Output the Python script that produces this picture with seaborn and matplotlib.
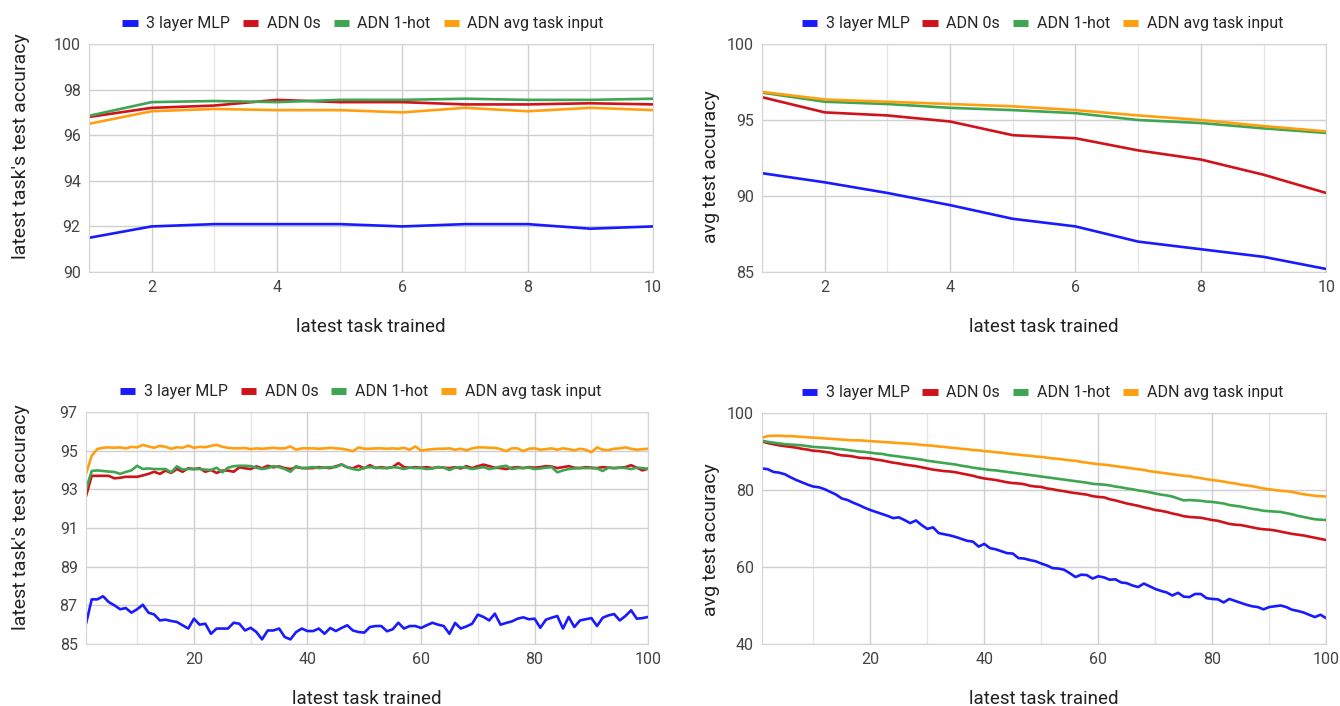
import numpy as np
import pandas as pd
import matplotlib
matplotlib.use("Agg")
import matplotlib.pyplot as plt
import seaborn as sns
from matplotlib.ticker import MultipleLocator

# series names and colours
series = ["3 layer MLP", "ADN 0s", "ADN 1-hot", "ADN avg task input"]
colors = ["#1a1aff", "#d0121b", "#3ea553", "#ff9f0f"]

# --- 10 tasks ---
tasks10 = list(range(1, 11))
latest10_mlp = [91.5, 92.0, 92.1, 92.1, 92.1, 92.0, 92.1, 92.1, 91.9, 92.0]
latest10_zeros = [96.8, 97.2, 97.3, 97.55, 97.45, 97.45, 97.35, 97.35, 97.4, 97.35]
latest10_onehot = [96.85, 97.45, 97.5, 97.45, 97.55, 97.55, 97.6, 97.55, 97.55, 97.6]
latest10_avg = [96.5, 97.05, 97.15, 97.1, 97.1, 97.0, 97.2, 97.05, 97.2, 97.1]

avg10_mlp = [91.5, 90.9, 90.2, 89.4, 88.5, 88.0, 87.0, 86.5, 86.0, 85.2]
avg10_zeros = [96.5, 95.5, 95.3, 94.9, 94.0, 93.8, 93.0, 92.4, 91.4, 90.2]
avg10_onehot = [96.8, 96.2, 96.05, 95.8, 95.65, 95.45, 95.0, 94.8, 94.45, 94.15]
avg10_avg = [96.85, 96.35, 96.2, 96.05, 95.9, 95.65, 95.3, 95.0, 94.6, 94.25]

# --- 100 tasks ---
tasks100 = list(range(1, 101))
latest100_mlp = [
    86.05, 87.31, 87.31, 87.47, 87.17, 87.0, 86.8, 86.86, 86.62, 86.8,
    87.03, 86.62, 86.53, 86.22, 86.26, 86.19, 86.14, 85.97, 85.8, 86.31,
    86.0, 86.05, 85.53, 85.8, 85.8, 85.8, 86.1, 86.05, 85.7, 85.84,
    85.62, 85.24, 85.7, 85.7, 85.8, 85.36, 85.24, 85.62, 85.8, 85.67,
    85.67, 85.8, 85.53, 85.83, 85.67, 85.83, 85.97, 85.7, 85.62, 85.59,
    85.88, 85.93, 85.93, 85.66, 85.76, 86.1, 85.8, 85.93, 85.93, 85.83,
    85.97, 86.1, 86.0, 85.93, 85.53, 86.09, 85.8, 85.91, 86.05, 86.52,
    86.4, 86.22, 86.57, 86.0, 86.09, 86.17, 86.31, 86.38, 86.28, 86.31,
    85.84, 86.26, 86.36, 86.45, 85.8, 86.4, 85.88, 86.22, 86.28, 86.34,
    85.93, 86.36, 86.48, 86.55, 86.22, 86.45, 86.74, 86.31, 86.34, 86.4]
latest100_zeros = [
    92.65, 93.7, 93.7, 93.7, 93.7, 93.57, 93.6, 93.65, 93.65, 93.65,
    93.72, 93.8, 93.91, 93.8, 93.97, 93.85, 94.05, 93.91, 94.09, 94.05,
    94.09, 93.91, 94.0, 93.85, 93.97, 93.97, 93.91, 94.14, 94.09, 94.05,
    94.19, 94.09, 94.22, 94.14, 94.19, 94.1, 94.05, 94.15, 94.1, 94.09,
    94.1, 94.15, 94.12, 94.1, 94.19, 94.29, 94.14, 94.09, 94.22, 94.09,
    94.25, 94.1, 94.15, 94.1, 94.15, 94.36, 94.15, 94.12, 94.15, 94.12,
    94.15, 94.1, 94.15, 94.12, 94.1, 94.15, 94.08, 94.2, 94.1, 94.2,
    94.28, 94.2, 94.12, 94.1, 94.05, 94.12, 94.15, 94.1, 94.15, 94.12,
    94.15, 94.2, 94.18, 94.1, 94.15, 94.2, 94.12, 94.1, 94.15, 94.12,
    94.1, 94.15, 94.12, 94.1, 94.12, 94.15, 94.25, 94.12, 93.98, 94.08]
latest100_onehot = [
    93.0, 93.95, 93.98, 93.95, 93.92, 93.9, 93.8, 93.9, 93.98, 94.22,
    94.05, 94.08, 94.05, 94.05, 94.05, 93.88, 94.19, 94.02, 94.05, 94.05,
    94.05, 94.02, 94.0, 94.12, 93.88, 94.12, 94.2, 94.22, 94.22, 94.2,
    94.12, 94.05, 94.1, 94.2, 94.15, 94.05, 93.91, 94.2, 94.1, 94.12,
    94.15, 94.1, 94.12, 94.15, 94.15, 94.28, 94.15, 94.05, 94.0, 94.12,
    94.15, 94.12, 94.1, 94.1, 94.15, 94.12, 94.05, 94.12, 94.1, 94.1,
    94.05, 94.08, 94.15, 94.12, 94.0, 94.12, 94.15, 94.12, 94.05, 94.1,
    94.15, 94.05, 94.1, 94.18, 94.22, 94.05, 94.1, 94.1, 94.12, 94.05,
    94.08, 94.12, 94.15, 93.88, 93.98, 94.05, 94.08, 94.1, 94.1, 94.1,
    94.08, 93.95, 94.12, 94.1, 94.12, 94.1, 94.05, 94.12, 94.1, 94.05]
latest100_avg = [
    93.8, 94.74, 95.09, 95.15, 95.17, 95.15, 95.17, 95.12, 95.2, 95.17,
    95.3, 95.22, 95.15, 95.25, 95.2, 95.1, 95.18, 95.15, 95.26, 95.15,
    95.2, 95.18, 95.25, 95.3, 95.2, 95.15, 95.12, 95.12, 95.14, 95.08,
    95.12, 95.1, 95.12, 95.15, 95.12, 95.12, 95.22, 95.05, 95.12, 95.12,
    95.12, 95.1, 95.12, 95.15, 95.12, 95.1, 95.05, 94.97, 95.17, 95.1,
    95.1, 95.12, 95.12, 95.1, 95.12, 95.1, 95.15, 95.05, 95.22, 95.0,
    95.05, 95.08, 95.1, 95.1, 95.12, 95.05, 95.1, 95.02, 95.12, 95.17,
    95.17, 95.15, 95.15, 95.08, 94.98, 95.12, 95.12, 94.98, 95.1, 95.12,
    95.05, 95.08, 95.12, 95.05, 95.12, 95.08, 95.02, 95.1, 95.05, 94.92,
    95.17, 95.05, 95.03, 95.1, 95.12, 95.17, 95.1, 95.05, 95.08, 95.1]

avg100_mlp = [
    85.6, 85.4, 84.7, 84.5, 84.1, 83.3, 82.6, 82.0, 81.4, 80.9,
    80.7, 80.2, 79.5, 78.8, 77.8, 77.4, 76.7, 76.1, 75.4, 74.8,
    74.3, 73.8, 73.3, 72.7, 72.9, 72.2, 71.4, 72.1, 70.9, 69.9,
    70.3, 68.8, 68.5, 68.2, 67.8, 67.3, 66.8, 66.6, 65.3, 66.0,
    64.9, 64.6, 64.1, 63.6, 63.5, 62.3, 62.2, 61.8, 61.5, 60.9,
    60.4, 59.7, 59.6, 59.3, 58.4, 57.4, 58.0, 57.9, 57.0, 57.6,
    57.3, 56.7, 56.8, 56.0, 55.8, 55.2, 54.8, 55.7, 55.0, 54.3,
    53.8, 53.4, 52.6, 53.3, 52.3, 52.2, 53.0, 53.0, 51.9, 51.7,
    51.6, 50.8, 51.7, 51.2, 50.7, 50.2, 49.8, 49.6, 49.0, 49.6,
    49.8, 50.0, 49.6, 48.9, 48.6, 48.2, 47.6, 47.0, 47.6, 46.7]
avg100_zeros = [
    92.6, 92.2, 91.9, 91.6, 91.4, 91.2, 91.0, 90.7, 90.5, 90.2,
    90.1, 89.9, 89.7, 89.3, 89.0, 88.9, 88.7, 88.4, 88.3, 88.2,
    87.9, 87.7, 87.4, 87.1, 86.9, 86.6, 86.4, 86.2, 85.9, 85.6,
    85.3, 85.1, 84.9, 84.8, 84.6, 84.3, 84.0, 83.7, 83.3, 83.0,
    82.8, 82.6, 82.3, 82.0, 81.8, 81.7, 81.5, 81.1, 80.9, 80.8,
    80.4, 80.2, 79.9, 79.7, 79.4, 79.2, 79.0, 78.8, 78.4, 78.2,
    78.1, 77.6, 77.3, 76.9, 76.5, 76.2, 75.9, 75.5, 75.2, 74.8,
    74.6, 74.3, 73.9, 73.6, 73.2, 73.0, 72.9, 72.8, 72.5, 72.2,
    72.0, 71.6, 71.2, 71.0, 70.9, 70.6, 70.3, 70.0, 69.8, 69.7,
    69.5, 69.2, 68.9, 68.6, 68.4, 68.2, 67.9, 67.6, 67.3, 67.0]
avg100_onehot = [
    92.8, 92.5, 92.3, 92.1, 91.9, 91.8, 91.7, 91.6, 91.4, 91.2,
    91.1, 91.0, 90.9, 90.7, 90.6, 90.4, 90.2, 90.0, 89.9, 89.7,
    89.5, 89.4, 89.1, 88.9, 88.7, 88.5, 88.3, 88.1, 87.9, 87.6,
    87.4, 87.2, 87.0, 86.8, 86.6, 86.3, 86.1, 85.8, 85.6, 85.4,
    85.2, 85.1, 84.9, 84.7, 84.5, 84.3, 84.1, 83.9, 83.7, 83.5,
    83.3, 83.1, 82.9, 82.7, 82.5, 82.3, 82.1, 81.9, 81.6, 81.5,
    81.4, 81.2, 80.9, 80.7, 80.4, 80.2, 79.9, 79.7, 79.4, 79.1,
    78.8, 78.6, 78.3, 77.8, 77.3, 77.4, 77.3, 77.2, 77.0, 76.9,
    76.7, 76.5, 76.1, 75.9, 75.7, 75.4, 75.1, 74.9, 74.6, 74.5,
    74.4, 74.3, 74.0, 73.7, 73.3, 73.0, 72.7, 72.4, 72.3, 72.2]
avg100_avg = [
    93.6, 94.0, 94.1, 94.1, 94.0, 94.0, 93.9, 93.8, 93.7, 93.6,
    93.5, 93.4, 93.3, 93.2, 93.1, 93.0, 92.9, 92.9, 92.8, 92.7,
    92.6, 92.5, 92.4, 92.3, 92.2, 92.1, 92.0, 91.9, 91.7, 91.6,
    91.5, 91.3, 91.2, 91.0, 90.9, 90.7, 90.6, 90.4, 90.3, 90.1,
    90.0, 89.8, 89.7, 89.5, 89.3, 89.2, 89.0, 88.9, 88.7, 88.6,
    88.4, 88.2, 88.1, 87.9, 87.7, 87.6, 87.3, 87.1, 86.9, 86.7,
    86.6, 86.4, 86.2, 86.0, 85.8, 85.6, 85.4, 85.2, 84.9, 84.7,
    84.5, 84.3, 84.1, 83.9, 83.7, 83.6, 83.3, 83.1, 82.8, 82.6,
    82.4, 82.2, 81.9, 81.7, 81.4, 81.2, 81.0, 80.7, 80.4, 80.2,
    80.0, 79.8, 79.7, 79.5, 79.2, 78.9, 78.7, 78.5, 78.4, 78.3]

# y tick values per panel
yticks_tl = [90, 92, 94, 96, 98, 100]
yticks_tr = [85, 90, 95, 100]
yticks_bl = [85, 87, 89, 91, 93, 95, 97]
yticks_br = [40, 60, 80, 100]


def long_df(x, cols):
    frames = [pd.DataFrame({"task": x, "acc": vals, "model": name})
              for name, vals in zip(series, cols)]
    return pd.concat(frames, ignore_index=True)


sns.set_style("white")
plt.rcParams["font.family"] = ["Roboto", "DejaVu Sans"]

fig = plt.figure(figsize=(13.4, 7.06), dpi=100)

panels = [
    # rect, x, cols, yticks, xmax, xmajor, xminor, ylabel, ylabel pos, legend x
    ([0.0664, 0.6147, 0.421, 0.323], tasks10,
     [latest10_mlp, latest10_zeros, latest10_onehot, latest10_avg],
     yticks_tl, 10, 2, 1, "latest task's test accuracy", (-0.105, 0.55), 0.486),
    ([0.5687, 0.6147, 0.421, 0.323], tasks10,
     [avg10_mlp, avg10_zeros, avg10_onehot, avg10_avg],
     yticks_tr, 10, 2, 1, "avg test accuracy", (-0.074, 0.46), 0.497),
    ([0.0642, 0.0878, 0.4195, 0.3286], tasks100,
     [latest100_mlp, latest100_zeros, latest100_onehot, latest100_avg],
     yticks_bl, 100, 20, 10, "latest task's test accuracy", (-0.10, 0.547), 0.489),
    ([0.5687, 0.0878, 0.421, 0.3272], tasks100,
     [avg100_mlp, avg100_zeros, avg100_onehot, avg100_avg],
     yticks_br, 100, 20, 10, "avg test accuracy", (-0.074, 0.45), 0.497),
]

for rect, x, cols, yticks, xmax, xmaj, xmin, ylabel, ypos, legx in panels:
    ax = fig.add_axes(rect)
    df = long_df(x, cols)
    sns.lineplot(data=df, x="task", y="acc", hue="model", palette=colors,
                 linewidth=1.9, ax=ax, legend=False)
    ax.set_xlim(1, xmax)
    ax.set_ylim(yticks[0], yticks[-1])
    ax.set_yticks(yticks)
    ax.xaxis.set_major_locator(MultipleLocator(xmaj))
    ax.xaxis.set_minor_locator(MultipleLocator(xmin))
    ax.grid(which="major", color="#cfcfcf", linewidth=1.0)
    ax.grid(which="minor", axis="x", color="#e6e6e6", linewidth=1.0)
    ax.set_axisbelow(True)
    for s in ax.spines.values():
        s.set_color("#d4d4d4")
    ax.tick_params(which="both", length=0, labelsize=11.5, colors="#444444", pad=6)
    ax.set_xlabel("latest task trained", fontsize=13.5, color="#222222", labelpad=16)
    ax.set_ylabel(ylabel, fontsize=14, color="#222222")
    ax.yaxis.set_label_coords(*ypos)

    handles = [plt.Line2D([0], [0], color=c, linewidth=5, solid_capstyle="butt")
               for c in colors]
    ax.legend(handles, series, loc="lower center", bbox_to_anchor=(legx, 1.0),
              ncol=4, frameon=False, fontsize=11.5, handlelength=0.95,
              handletextpad=0.55, columnspacing=0.8, borderaxespad=0.4)

fig.savefig("out.png", dpi=100, facecolor="white")
